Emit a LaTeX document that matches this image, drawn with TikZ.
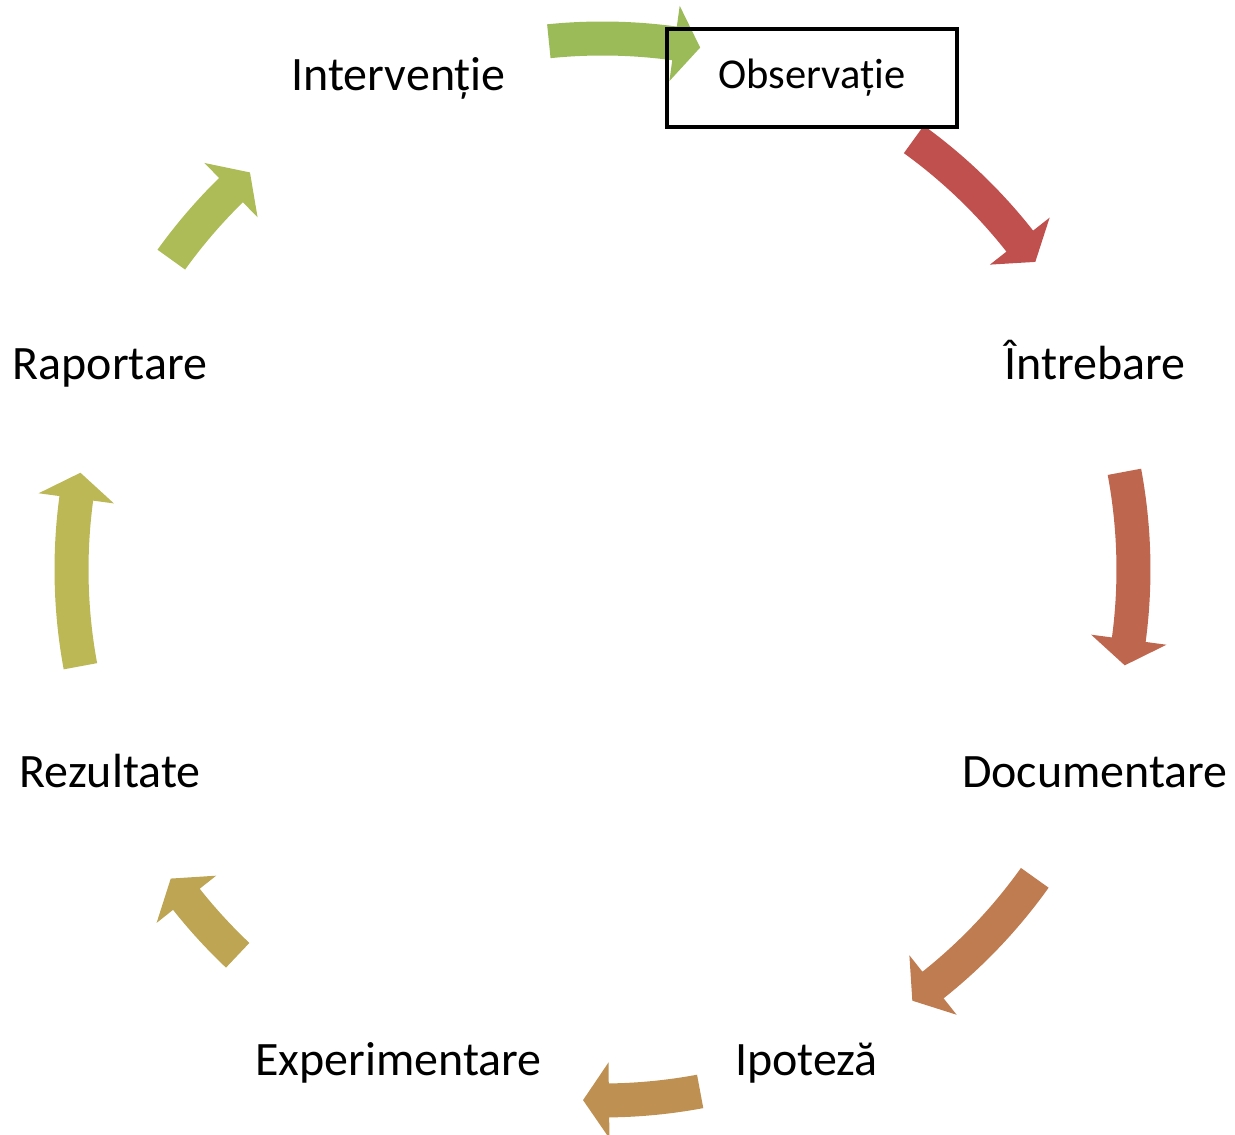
\documentclass[tikz,border=0pt]{standalone}
\usepackage{fontspec}
\setmainfont{Carlito}
\usepackage{xcolor}
\usepackage{tikz}
\definecolor{arA}{HTML}{C0504D}
\definecolor{arB}{HTML}{BF664F}
\definecolor{arC}{HTML}{BE7C50}
\definecolor{arD}{HTML}{BE9152}
\definecolor{arE}{HTML}{BDA554}
\definecolor{arF}{HTML}{BCB856}
\definecolor{arG}{HTML}{ADBC57}
\definecolor{arH}{HTML}{9BBB59}
\tikzset{
  cyc/.style={x=0.2mm, y=0.2mm, every node/.style={font=\fontsize{27.3}{32}\selectfont, inner sep=2pt, text height=21pt, text depth=5.3pt}},
  obsbox/.style={draw, line width=0.7mm, minimum width=58mm, minimum height=19.6mm, font=\fontsize{24.2}{29}\selectfont, text height=17pt, text depth=4.8pt}
}
% curved block arrow on the cycle: colour, from angle, to angle
\newcommand{\cycarrow}[3]{%
  \pgfmathsetmacro{\hb}{#3+2.8}
  \fill[#1] (#2:548) arc[start angle=#2, end angle=\hb, radius=548] -- (\hb:569) -- (#3:531)
    -- (\hb:493) -- (\hb:514) arc[start angle=\hb, end angle=#2, radius=514] -- cycle;
}

\begin{document}
\begin{tikzpicture}[cyc]
\useasboundingbox (-602.5,-565.5) rectangle (632.5,569.5);
\cycarrow{arA}{54.1}{35.4}
\cycarrow{arB}{10.6}{-10.4}
\cycarrow{arC}{-35.5}{-54.3}
\cycarrow{arD}{-79.4}{-92.1}
\cycarrow{arE}{-133.4}{-144.4}
\cycarrow{arF}{190.5}{169.5}
\cycarrow{arG}{144.3}{131.6}
\cycarrow{arH}{95.8}{79.4}
\node[obsbox] (obs) at (209.5,491.5) {Observație\hspace{10pt}};
\node (intr) at (22.5:533) {Întrebare};
\node (doc) at (-22.5:533) {Documentare};
\node (ipo) at (-67.5:533) {Ipoteză};
\node (exp) at (-112.5:533) {Experimentare};
\node (rez) at (-157.5:533) {Rezultate};
\node (rap) at (157.5:533) {Raportare};
\node (intv) at (112.5:533) {Intervenție};
\end{tikzpicture}
\end{document}
